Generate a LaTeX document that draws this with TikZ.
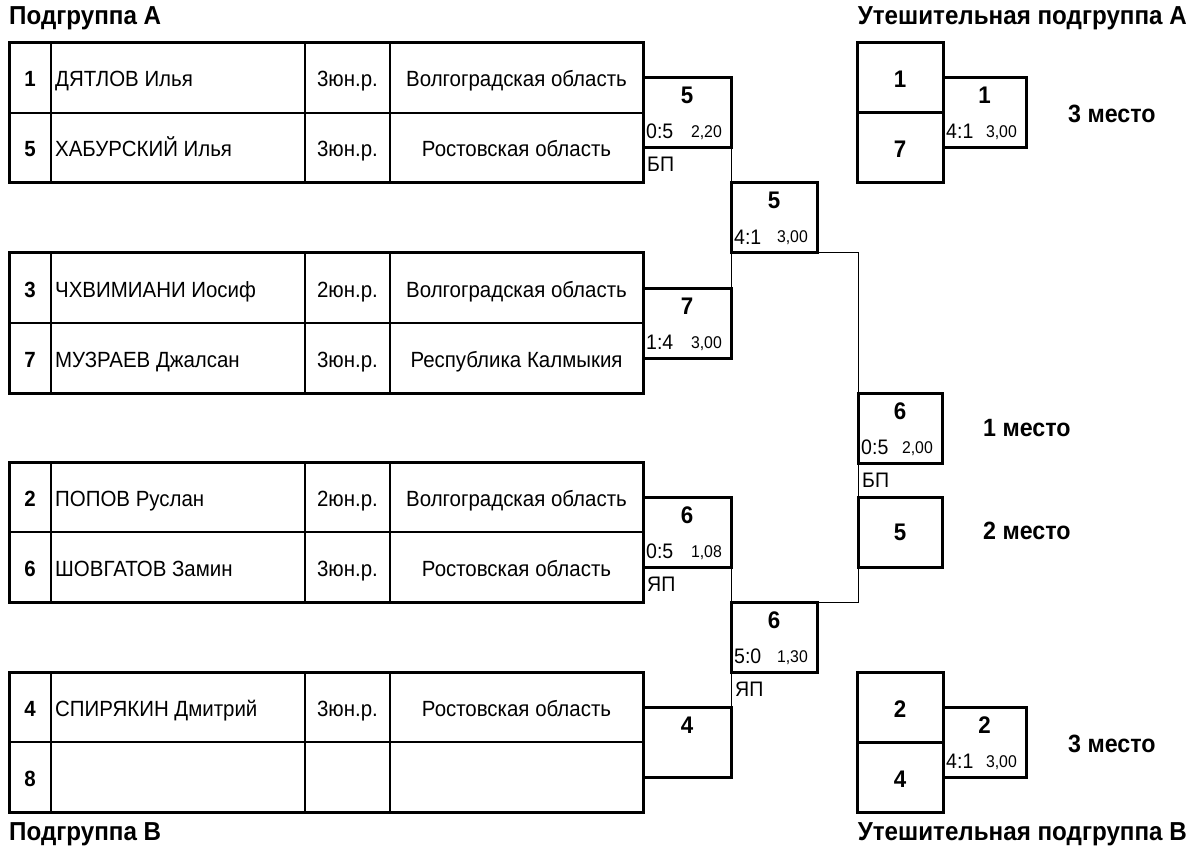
\documentclass[tikz,border=0pt]{standalone}
\usepackage{fontspec}
\setmainfont[FakeStretch=0.93]{Liberation Sans}
\usetikzlibrary{calc}
\begin{document}
\begin{tikzpicture}[x=1pt,y=-1pt,
  brd/.style={line width=3pt},
  inner/.style={line width=1.1pt},
  conn/.style={line width=1pt},
  mbox/.style={draw, line width=3pt, minimum height=70pt, inner sep=0pt, outer sep=0pt, anchor=north west},
  txt/.style={font=\fontsize{22}{26}\selectfont, inner sep=0pt, anchor=base},
  seedtxt/.style={font=\bfseries\fontsize{22}{26}\selectfont, inner sep=0pt, anchor=base},
  win/.style={font=\bfseries\fontsize{24}{28}\selectfont, inner sep=0pt, anchor=base},
  sc/.style={font=\fontsize{21}{25}\selectfont, inner sep=0pt, anchor=base west},
  tm/.style={font=\fontsize{17}{20}\selectfont, inner sep=0pt, anchor=base east},
  note/.style={font=\fontsize{21}{25}\selectfont, inner sep=0pt, anchor=base west},
  ttl/.style={font=\bfseries\fontsize{26}{30}\selectfont, inner sep=0pt},
  place/.style={font=\bfseries\fontsize{25}{29}\selectfont, inner sep=0pt, anchor=base west}
]
\useasboundingbox (0,0) rectangle (1193,850);

% ---------- tables ----------
\newcommand\tbl[9]{%
  \draw[inner] (9,#1+70) -- (643,#1+70);
  \draw[inner] (51,#1) -- (51,#1+140);
  \draw[inner] (305,#1) -- (305,#1+140);
  \draw[inner] (390,#1) -- (390,#1+140);
  \draw[brd] (9,#1) rectangle (643,#1+140);
  \node[seedtxt] at (30,#1+44) {#2};
  \node[txt, anchor=base west] at (55,#1+44) {#3};
  \node[txt] at (347.5,#1+44) {#4};
  \node[txt] at (516.5,#1+44) {#5};
  \node[seedtxt] at (30,#1+114) {#6};
  \node[txt, anchor=base west] at (55,#1+114) {#7};
  \node[txt] at (347.5,#1+114) {#8};
  \node[txt] at (516.5,#1+114) {#9};
}
\tbl{43}{1}{ДЯТЛОВ Илья}{3юн.р.}{Волгоградская область}{5}{ХАБУРСКИЙ Илья}{3юн.р.}{Ростовская область}
\tbl{253}{3}{ЧХВИМИАНИ Иосиф}{2юн.р.}{Волгоградская область}{7}{МУЗРАЕВ Джалсан}{3юн.р.}{Республика Калмыкия}
\tbl{462}{2}{ПОПОВ Руслан}{2юн.р.}{Волгоградская область}{6}{ШОВГАТОВ Замин}{3юн.р.}{Ростовская область}
\tbl{672}{4}{СПИРЯКИН Дмитрий}{3юн.р.}{Ростовская область}{8}{}{}{}

% ---------- match boxes ----------
\newcommand\mtch[7]{%
  \node[mbox, minimum width=#4] (#1) at (#2,#3) {};
  \path (#1.north) ++(0,26) node[win] {#5};
  \path (#1.north west) ++(3,61) node[sc] {#6};
  \path (#1.north east) ++(-9,60) node[tm] {#7};
}
\mtch{m1}{643}{78}{88pt}{5}{0:5}{2,20}
\mtch{m2}{643}{288}{88pt}{7}{1:4}{3,00}
\mtch{m3}{643}{497}{88pt}{6}{0:5}{1,08}
\mtch{m4}{643}{707}{88pt}{4}{}{}
\mtch{s1}{731}{183}{86pt}{5}{4:1}{3,00}
\mtch{s2}{731}{602}{86pt}{6}{5:0}{1,30}
\mtch{f}{858}{393}{84pt}{6}{0:5}{2,00}
\node[mbox, minimum width=84pt] (p2) at (858,497) {};
\node[win] at ($(p2.north)+(0,43)$) {5};

% consolation A
\node[mbox, minimum width=86pt] (ca1) at (857,43) {};
\node[mbox, minimum width=86pt] (ca2) at (857,113) {};
\node[win] at ($(ca1.north)+(0,45)$) {1};
\node[win] at ($(ca2.north)+(0,45)$) {7};
\mtch{ma}{943}{78}{83pt}{1}{4:1}{3,00}
% consolation B
\node[mbox, minimum width=86pt] (cb1) at (857,672) {};
\node[mbox, minimum width=86pt] (cb2) at (857,742) {};
\node[win] at ($(cb1.north)+(0,45)$) {2};
\node[win] at ($(cb2.north)+(0,45)$) {4};
\mtch{mb}{943}{707}{83pt}{2}{4:1}{3,00}

% ---------- connectors ----------
\draw[conn] (m1.south east) -- (s1.north west);
\draw[conn] (m2.north east) -- (s1.south west);
\draw[conn] (m3.south east) -- (s2.north west);
\draw[conn] (m4.north east) -- (s2.south west);
\draw[conn] (s1.south east) -| (f.north west);
\draw[conn] (s2.north east) -| (p2.south west);
\draw[conn] (f.south west) -- (p2.north west);

% ---------- notes under boxes ----------
\node[note] at ($(m1.south west)+(4,24)$) {БП};
\node[note] at ($(m3.south west)+(4,24)$) {ЯП};
\node[note] at ($(s2.south west)+(4,24)$) {ЯП};
\node[note] at ($(f.south west)+(4,24)$) {БП};

% ---------- places ----------
\node[place] at (983,436) {1 место};
\node[place] at (983,539) {2 место};
\node[place] at (1068,123) {3 место};
\node[place] at (1068,752) {3 место};

% ---------- titles ----------
\node[ttl, anchor=base west] at (9,25) {Подгруппа А};
\node[ttl, anchor=base east] at (1187,25) {Утешительная подгруппа А};
\node[ttl, anchor=base west] at (9,840) {Подгруппа В};
\node[ttl, anchor=base east] at (1187,840) {Утешительная подгруппа В};
\end{tikzpicture}
\end{document}
